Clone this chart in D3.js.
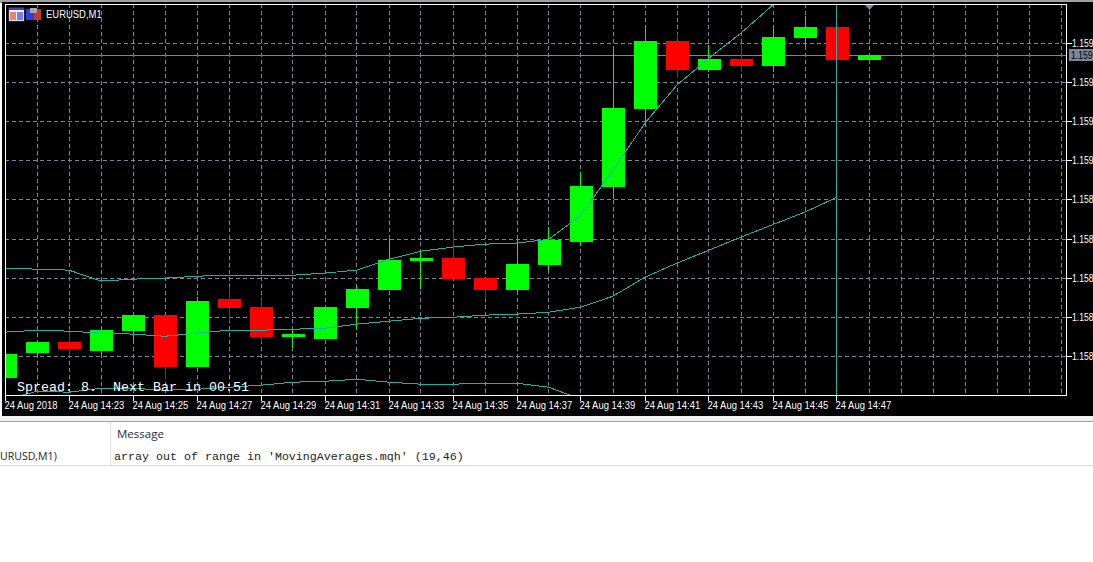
<!DOCTYPE html>
<html>
<head>
<meta charset="utf-8">
<script src="https://cdn.jsdelivr.net/npm/d3@7"></script>
<style>
    html, body { margin: 0; padding: 0; background: #fff; overflow: hidden; }
    text { white-space: pre; }
    .tick-label { font-family: "Liberation Sans", sans-serif; font-size: 11px; fill: #fff; }
    .mono { font-family: "Liberation Mono", monospace; }
</style>
</head>
<body>
<div id="chart"></div>
<script>
// bars, one per minute from 14:21
const opens = [1.157885, 1.158015, 1.15807, 1.158025, 1.158125, 1.15821, 1.157945, 1.15829, 1.15825, 1.158095, 1.158085, 1.158245, 1.158335, 1.158485, 1.15850, 1.15840, 1.158335, 1.158465, 1.15858, 1.158865, 1.15926, 1.15961, 1.15946, 1.15952, 1.15948, 1.159625, 1.15968, 1.159515];
const highs = [1.15801, 1.15807, 1.15814, 1.15815, 1.15821, 1.15821, 1.15830, 1.15835, 1.15830, 1.15814, 1.15825, 1.15836, 1.15860, 1.15853, 1.15866, 1.15840, 1.15859, 1.15866, 1.15894, 1.15958, 1.15968, 1.15965, 1.15959, 1.15959, 1.15968, 1.15974, 1.15968, 1.15954];
const lows = [1.157885, 1.15800, 1.15800, 1.15801, 1.15807, 1.15788, 1.157945, 1.15818, 1.15807, 1.15804, 1.158085, 1.15813, 1.158335, 1.15834, 1.158395, 1.15829, 1.15832, 1.15844, 1.15856, 1.15880, 1.15918, 1.15942, 1.15945, 1.15945, 1.15945, 1.15958, 1.159515, 1.159515];
const closes = [1.15801, 1.15807, 1.158035, 1.15813, 1.15821, 1.157945, 1.15828, 1.158245, 1.158095, 1.15811, 1.15825, 1.15834, 1.15849, 1.15850, 1.158395, 1.158335, 1.15847, 1.15859, 1.15887, 1.159265, 1.15961, 1.15946, 1.15952, 1.15948, 1.15963, 1.15968, 1.159515, 1.15954];

// moving average bands
const upperBand = [1.158451, 1.158446, 1.158441, 1.158385, 1.158395, 1.158400, 1.158410, 1.158415, 1.158415, 1.158415, 1.158426, 1.158441, 1.158497, 1.158538, 1.158559, 1.158574, 1.158579, 1.158599, 1.158722, 1.158952, 1.159193, 1.159387, 1.159525, 1.159653, 1.159797, 1.159924];
const middleBand = [1.158124, 1.158134, 1.158129, 1.158119, 1.158114, 1.158103, 1.158119, 1.158134, 1.158134, 1.158139, 1.158144, 1.158165, 1.158180, 1.158195, 1.158200, 1.158211, 1.158216, 1.158226, 1.158252, 1.158308, 1.158405, 1.158477, 1.158543, 1.158610, 1.158674, 1.158738, 1.158814];
const lowerBand = [1.157776, 1.157822, 1.157817, 1.157837, 1.157837, 1.157827, 1.157832, 1.157842, 1.157853, 1.157868, 1.157873, 1.157883, 1.157868, 1.157858, 1.157858, 1.157863, 1.157863, 1.157842, 1.157781];

const priceTicks = [1.1596, 1.1594, 1.1592, 1.1590, 1.1588, 1.1586, 1.1584, 1.1582, 1.1580];
// the window cuts these off after three decimals
const priceTickLabels = ["1.159", "1.159", "1.159", "1.159", "1.158", "1.158", "1.158", "1.158", "1.158"];
const timeTickBars = [0, 2, 4, 6, 8, 10, 12, 14, 16, 18, 20, 22, 24, 26];
const timeTickLabels = ["24 Aug 2018", "24 Aug 14:23", "24 Aug 14:25", "24 Aug 14:27", "24 Aug 14:29", "24 Aug 14:31", "24 Aug 14:33", "24 Aug 14:35", "24 Aug 14:37", "24 Aug 14:39", "24 Aug 14:41", "24 Aug 14:43", "24 Aug 14:45", "24 Aug 14:47"];
const gridBars = d3.range(1, 34);
const currentPrice = 1.15954;
const currentPriceLabel = "1.159";
const cursorBar = 26;
const shiftBar = 27;

const chartTitle = "EURUSD,M1";
const spreadText = "Spread: 8.  Next Bar in 00:51";
const logSource = "URUSD,M1)";
const logHeader = "Message";
const logMessage = "array out of range in 'MovingAverages.mqh' (19,46)";

const width = 1093, height = 562;
const plot = {left: 5, right: 1066, top: 4, bottom: 395};
const gray = "#778899", teal = "#20b2aa", up = "#00ff00", down = "#ff0000";
const narrow = "scale(0.86,1)";

const svg = d3.select("#chart").append("svg")
    .attr("width", width)
    .attr("height", height)
    .style("display", "block");

// scales
const x = d3.scaleLinear().domain([0, 33]).range([5, 1061]);
const y = d3.scaleLinear().domain([1.1596, 1.1580]).range([43.4, 356.4]);
const px = v => Math.floor(v) + 0.5;

// window background
svg.append("rect").attr("width", width).attr("height", 3).attr("fill", "#a0a0a0");
svg.append("rect").attr("x", 2).attr("y", 2).attr("width", width).attr("height", 414).attr("fill", "#000");
svg.append("rect").attr("y", 416).attr("width", width).attr("height", 5).attr("fill", "#f0f0f0");
svg.append("rect").attr("y", 421).attr("width", width).attr("height", 1).attr("fill", "#a0a0a0");

svg.append("clipPath").attr("id", "plot-clip")
    .append("rect")
    .attr("x", plot.left)
    .attr("y", plot.top)
    .attr("width", plot.right - plot.left)
    .attr("height", plot.bottom - plot.top);

const chart = svg.append("g").attr("clip-path", "url(#plot-clip)");

// grid
chart.append("g").selectAll("line").data(priceTicks).join("line")
    .attr("x1", plot.left).attr("x2", plot.right)
    .attr("y1", d => px(y(d))).attr("y2", d => px(y(d)))
    .attr("stroke", gray)
    .attr("stroke-dasharray", "4 3");
chart.append("g").selectAll("line").data(gridBars).join("line")
    .attr("x1", d => px(x(d))).attr("x2", d => px(x(d)))
    .attr("y1", plot.top).attr("y2", plot.bottom)
    .attr("stroke", gray)
    .attr("stroke-dasharray", "4 3");

// current price line
chart.append("line")
    .attr("x1", plot.left).attr("x2", plot.right)
    .attr("y1", px(y(currentPrice))).attr("y2", px(y(currentPrice)))
    .attr("stroke", gray);

// candles
const candles = d3.range(opens.length);
const candleColor = i => closes[i] >= opens[i] ? up : down;

chart.append("g").selectAll("line").data(candles).join("line")
    .attr("x1", i => px(x(i))).attr("x2", i => px(x(i)))
    .attr("y1", i => Math.floor(y(highs[i]))).attr("y2", i => Math.floor(y(lows[i])))
    .attr("stroke", candleColor);

chart.append("g").selectAll("rect").data(candles).join("rect")
    .attr("x", i => x(i) - 11)
    .attr("y", i => Math.floor(y(Math.max(opens[i], closes[i]))))
    .attr("width", 23)
    .attr("height", i => Math.max(2, Math.floor(y(Math.min(opens[i], closes[i]))) - Math.floor(y(Math.max(opens[i], closes[i])))))
    .attr("fill", candleColor);

// bands
const bandLine = d3.line().x((d, i) => x(i)).y(d => y(d));
chart.append("g").selectAll("path").data([upperBand, middleBand, lowerBand]).join("path")
    .attr("d", bandLine)
    .attr("fill", "none")
    .attr("stroke", teal)
    .attr("shape-rendering", "crispEdges");

// cursor line on the last closed bar
chart.append("line")
    .attr("x1", px(x(cursorBar))).attr("x2", px(x(cursorBar)))
    .attr("y1", plot.top).attr("y2", plot.bottom)
    .attr("stroke", teal);

// frame
svg.append("rect")
    .attr("x", plot.left + 0.5)
    .attr("y", plot.top + 0.5)
    .attr("width", plot.right - plot.left)
    .attr("height", plot.bottom - plot.top)
    .attr("fill", "none")
    .attr("stroke", "#fff");

// shift marker
svg.append("path")
    .attr("d", d3.line()([[x(shiftBar) - 4, plot.top + 1], [x(shiftBar) + 5, plot.top + 1], [x(shiftBar) + 0.5, plot.top + 6]]))
    .attr("fill", gray);

// price axis
const yAxis = d3.axisRight(y)
    .tickValues(priceTicks)
    .tickFormat((d, i) => priceTickLabels[i])
    .tickSize(5)
    .tickPadding(0)
    .offset(0);
const yAxisGroup = svg.append("g")
    .attr("transform", `translate(${plot.right + 1},0)`)
    .call(yAxis);
yAxisGroup.select(".domain").remove();
yAxisGroup.selectAll(".tick").attr("transform", d => `translate(0,${px(y(d))})`);
yAxisGroup.selectAll("line").attr("stroke", "#fff");
yAxisGroup.selectAll("text")
    .attr("class", "tick-label")
    .attr("fill", null)
    .attr("x", 0)
    .attr("transform", "translate(5,0) scale(0.78,1)");

// current price tag
svg.append("rect")
    .attr("x", 1069).attr("y", px(y(currentPrice)) - 6.5)
    .attr("width", 24).attr("height", 12)
    .attr("fill", gray);
svg.append("text")
    .attr("class", "tick-label")
    .attr("transform", `translate(1071,${px(y(currentPrice)) + 3.5}) scale(0.78,1)`)
    .style("fill", "#000")
    .text(currentPriceLabel);

// time axis
const xAxis = d3.axisBottom(x)
    .tickValues(timeTickBars)
    .tickFormat((d, i) => timeTickLabels[i])
    .tickSize(5)
    .tickPadding(1)
    .offset(0);
const xAxisGroup = svg.append("g")
    .attr("transform", `translate(0,${plot.bottom + 1})`)
    .call(xAxis);
xAxisGroup.select(".domain").remove();
xAxisGroup.selectAll(".tick").attr("transform", d => `translate(${px(x(d))},0)`);
xAxisGroup.selectAll("line").attr("stroke", "#fff");
xAxisGroup.selectAll("text")
    .attr("class", "tick-label")
    .attr("fill", null)
    .attr("text-anchor", "start")
    .attr("x", 0)
    .attr("y", 5)
    .attr("transform", `translate(-1,0) ${narrow}`);

// title and toolbar icons
const icon1 = svg.append("g").attr("transform", "translate(9,8)");
icon1.append("rect").attr("width", 15).attr("height", 13).attr("fill", "#f4f4ff").attr("stroke", "#8888cc").attr("stroke-width", 0.5);
icon1.append("rect").attr("x", 0).attr("y", 0).attr("width", 15).attr("height", 2).attr("fill", "#4040b0");
icon1.append("rect").attr("x", 1).attr("y", 4).attr("width", 6).attr("height", 8).attr("fill", "#f08070");
icon1.append("rect").attr("x", 8).attr("y", 4).attr("width", 6).attr("height", 8).attr("fill", "#7080f0");
const icon2 = svg.append("g").attr("transform", "translate(26,8)");
icon2.append("rect").attr("y", 1).attr("width", 8).attr("height", 11).attr("fill", "#2f3fd8");
icon2.append("rect").attr("x", 8).attr("y", 1).attr("width", 7).attr("height", 11).attr("fill", "#c43a32");
icon2.append("rect").attr("x", 4).attr("y", 0).attr("width", 7).attr("height", 5).attr("fill", "#a8a8a8");

svg.append("text")
    .attr("class", "tick-label")
    .attr("transform", `translate(46,18) ${narrow}`)
    .text(chartTitle);

svg.append("text")
    .attr("class", "mono")
    .attr("x", 17).attr("y", 391)
    .attr("font-size", 13.33)
    .attr("fill", "#fff")
    .text(spreadText);

// log panel below the chart
svg.append("line")
    .attr("x1", 110.5).attr("x2", 110.5)
    .attr("y1", 422).attr("y2", 465)
    .attr("stroke", "#e0e0e0");
svg.append("line")
    .attr("x1", 0).attr("x2", width)
    .attr("y1", 465.5).attr("y2", 465.5)
    .attr("stroke", "#d8d8d8");
svg.append("text")
    .attr("x", 117).attr("y", 438)
    .attr("font-family", "'Open Sans', sans-serif")
    .attr("font-size", 11.5)
    .attr("fill", "#2a2a3a")
    .text(logHeader);
svg.append("text")
    .attr("transform", "translate(0,460) scale(0.92,1)")
    .attr("font-family", "'Open Sans', sans-serif")
    .attr("font-size", 11.5)
    .attr("fill", "#222")
    .text(logSource);
svg.append("text")
    .attr("class", "mono")
    .attr("x", 114).attr("y", 460)
    .attr("font-size", 11.67)
    .attr("fill", "#222")
    .text(logMessage);
</script>
</body>
</html>
